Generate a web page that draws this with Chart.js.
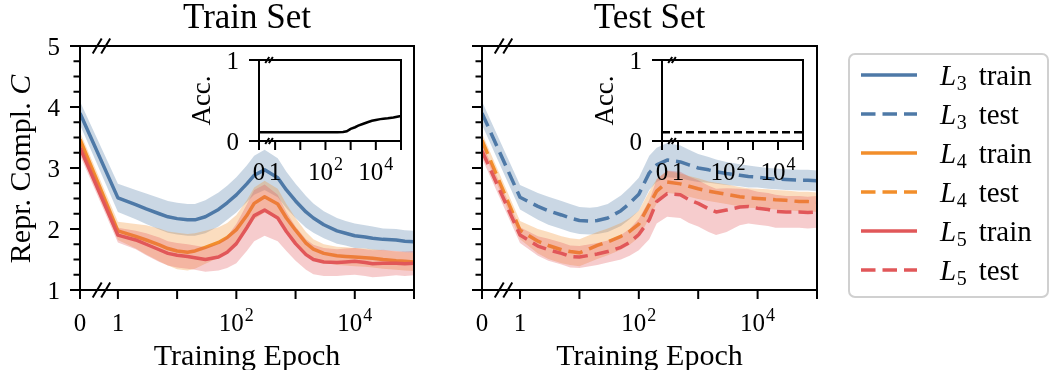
<!DOCTYPE html>
<html><head><meta charset="utf-8">
<script src="https://cdn.jsdelivr.net/npm/chart.js@4.4.0/dist/chart.umd.min.js"></script>
<style>
html,body{margin:0;padding:0;background:#fff;}
#wrap{position:relative;width:1051px;height:370px;overflow:hidden;background:#fff;}
#wrap canvas{position:absolute;}
</style></head><body>
<div id="wrap">
<canvas id="cA" width="440" height="370" style="left:0;top:0"></canvas>
<canvas id="cB" width="611" height="370" style="left:440px;top:0"></canvas>
<canvas id="cC" width="240" height="145" style="left:180px;top:45px"></canvas>
<canvas id="cD" width="240" height="145" style="left:580px;top:45px"></canvas>
</div>
<script>
// ---------------- data ----------------
const EPOCHS = [0,1,2,3,5,7,10,15,20,30,50,70,100,150,200,300,500,700,1000,1500,2000,3000,5000,7000,10000,15000,20000,30000,50000,70000,100000];

const L3_TRAIN    = [3.90,2.51,2.40,2.33,2.25,2.20,2.17,2.15,2.15,2.20,2.32,2.43,2.56,2.74,2.88,2.97,2.84,2.64,2.46,2.28,2.18,2.07,1.97,1.93,1.89,1.87,1.85,1.83,1.82,1.80,1.79];
const L3_TRAIN_SD = [0.19,0.23,0.24,0.25,0.26,0.26,0.26,0.26,0.26,0.27,0.28,0.28,0.29,0.30,0.32,0.33,0.32,0.30,0.28,0.26,0.24,0.22,0.21,0.20,0.20,0.19,0.19,0.18,0.18,0.18,0.18];
const L4_TRAIN    = [3.47,1.97,1.88,1.82,1.74,1.68,1.64,1.62,1.64,1.70,1.78,1.86,1.99,2.22,2.42,2.53,2.41,2.18,1.98,1.77,1.67,1.60,1.56,1.55,1.54,1.53,1.52,1.50,1.48,1.47,1.46];
const L4_TRAIN_SD = [0.12,0.15,0.20,0.24,0.27,0.28,0.30,0.30,0.29,0.27,0.25,0.24,0.24,0.25,0.26,0.26,0.25,0.23,0.20,0.18,0.16,0.15,0.15,0.15,0.15,0.15,0.15,0.15,0.15,0.15,0.15];
const L5_TRAIN    = [3.33,1.90,1.82,1.75,1.66,1.60,1.57,1.55,1.53,1.50,1.54,1.62,1.76,2.02,2.22,2.31,2.18,1.96,1.76,1.58,1.50,1.46,1.45,1.46,1.47,1.45,1.43,1.44,1.44,1.43,1.44];
const L5_TRAIN_SD = [0.12,0.12,0.15,0.18,0.20,0.20,0.20,0.20,0.20,0.20,0.22,0.26,0.32,0.38,0.42,0.42,0.38,0.32,0.28,0.25,0.24,0.23,0.22,0.22,0.22,0.22,0.22,0.22,0.20,0.20,0.20];

const L3_TEST     = [3.90,2.52,2.37,2.30,2.23,2.18,2.14,2.13,2.14,2.18,2.30,2.42,2.57,2.92,3.05,3.13,3.10,3.05,3.00,2.97,2.94,2.91,2.88,2.86,2.85,2.83,2.82,2.81,2.80,2.80,2.79];
const L3_TEST_SD  = [0.19,0.20,0.22,0.23,0.23,0.23,0.22,0.22,0.22,0.23,0.25,0.26,0.27,0.28,0.28,0.28,0.27,0.25,0.23,0.21,0.20,0.19,0.18,0.18,0.17,0.17,0.17,0.17,0.17,0.17,0.17];
const L4_TEST     = [3.45,1.98,1.80,1.73,1.66,1.63,1.61,1.68,1.73,1.79,1.88,1.96,2.08,2.40,2.62,2.77,2.74,2.70,2.66,2.62,2.60,2.57,2.53,2.51,2.50,2.49,2.48,2.47,2.45,2.45,2.44];
const L4_TEST_SD  = [0.12,0.15,0.20,0.22,0.22,0.22,0.22,0.22,0.22,0.22,0.22,0.22,0.22,0.22,0.20,0.18,0.17,0.17,0.17,0.16,0.16,0.16,0.16,0.16,0.16,0.16,0.16,0.16,0.16,0.16,0.16];
const L5_TEST     = [3.28,1.90,1.72,1.66,1.60,1.55,1.54,1.57,1.59,1.63,1.70,1.78,1.91,2.15,2.45,2.58,2.56,2.48,2.42,2.33,2.28,2.31,2.36,2.37,2.34,2.32,2.29,2.28,2.28,2.27,2.28];
const L5_TEST_SD  = [0.12,0.13,0.16,0.18,0.18,0.18,0.18,0.18,0.18,0.18,0.20,0.22,0.26,0.32,0.36,0.38,0.38,0.38,0.38,0.38,0.38,0.36,0.30,0.28,0.27,0.27,0.27,0.26,0.26,0.26,0.26];

const TRAIN_ACC = [0.107,0.107,0.107,0.107,0.107,0.107,0.107,0.107,0.107,0.107,0.107,0.107,0.107,0.107,0.107,0.107,0.11,0.12,0.15,0.17,0.19,0.21,0.235,0.25,0.26,0.27,0.275,0.28,0.29,0.30,0.31];
const TEST_ACC  = [0.107,0.107,0.107,0.107,0.107,0.107,0.107,0.107,0.107,0.107,0.107,0.107,0.107,0.107,0.107,0.107,0.107,0.107,0.107,0.107,0.107,0.107,0.107,0.107,0.107,0.107,0.107,0.107,0.107,0.107,0.107];

const X_TICK_EPOCHS = [0,1,10,100,1000,10000,100000];
const X_TICK_LABELS = ['0','1','','10^2','','10^4',''];
const Y_TICKS       = [1,1.25,1.5,1.75,2,2.25,2.5,2.75,3,3.25,3.5,3.75,4,4.25,4.5,4.75,5];
const Y_MAJOR       = [1,2,3,4,5];
const ACC_TICKS     = [0,1];
const LEVELS        = ['3','4','5'];

// ---------------- styles ----------------
const FAM = "'Liberation Serif','DejaVu Serif',serif";
Chart.defaults.font.family = FAM;
Chart.defaults.color = '#000';
const COLORS = ['#4e79a7','#f28e2b','#e15759'];
const DASH = [14.5,7];
const Z = -0.64; // where epoch 0 sits on the broken log axis (decades left of epoch 1)
const pos = e => e === 0 ? Z : Math.log10(e);

function rgba(hex,a){const n=parseInt(hex.slice(1),16);return `rgba(${n>>16},${(n>>8)&255},${n&255},${a})`;}
const TICK_PX = 25;

function seriesSets(means, sds, dashed){
  const out=[];
  means.forEach((m,k)=>{
    const col=COLORS[k], sd=sds[k], ob=(3-k)*2;
    out.push({data:EPOCHS.map((e,i)=>({x:pos(e),y:m[i]+sd[i]})),borderColor:'rgba(0,0,0,0)',borderWidth:0,pointRadius:0,
      fill:'+1',backgroundColor:rgba(col,0.3),order:ob});
    out.push({data:EPOCHS.map((e,i)=>({x:pos(e),y:m[i]-sd[i]})),borderColor:'rgba(0,0,0,0)',borderWidth:0,pointRadius:0,
      fill:false,order:ob});
    out.push({data:EPOCHS.map((e,i)=>({x:pos(e),y:m[i]})),borderColor:col,borderWidth:3.5,borderDash:dashed?DASH:[],
      borderJoinStyle:'round',pointRadius:0,fill:false,order:ob-1});
  });
  return out;
}

function xScale(height){
  return {type:'linear',min:Z,max:5,
    afterBuildTicks:s=>{s.ticks=X_TICK_EPOCHS.map(e=>({value:pos(e)}));},
    ticks:{autoSkip:false,maxRotation:0,minRotation:0,display:false,callback:(v,i)=>X_TICK_LABELS[i]},
    grid:{display:false},border:{display:false},
    afterFit:s=>{s.height=height;}};
}
function yScale(width, values, min, max){
  return {type:'linear',min:min,max:max,
    afterBuildTicks:s=>{s.ticks=values.map(v=>({value:v}));},
    ticks:{autoSkip:false,display:false,callback:v=>Number.isInteger(v)?String(v):''},
    grid:{display:false},border:{display:false},
    afterFit:s=>{s.width=width;}};
}

function drawRotated(ctx,parts,cx,cy,size){
  // parts: [[text,italic],...] drawn bottom-to-top, centred at cy, baseline at cx
  ctx.save();ctx.translate(cx,cy);ctx.rotate(-Math.PI/2);
  ctx.fillStyle='#000';ctx.textBaseline='alphabetic';ctx.textAlign='left';
  let total=0;const ws=parts.map(([t,it])=>{ctx.font=`${it?'italic ':''}${size}px ${FAM}`;const w=ctx.measureText(t).width;total+=w;return w;});
  let x=-total/2;
  parts.forEach(([t,it],i)=>{ctx.font=`${it?'italic ':''}${size}px ${FAM}`;ctx.fillText(t,x,0);x+=ws[i];});
  ctx.restore();
}

// draws tick marks, tick labels, frame, axis-break marks, titles
function decoPlugin(p){
  return {id:'deco',afterDraw(chart){
    const ctx=chart.ctx,a=chart.chartArea,xs=chart.scales.x,ys=chart.scales.y;
    ctx.save();ctx.strokeStyle='#000';ctx.lineWidth=p.lw;ctx.setLineDash([]);ctx.lineCap='butt';
    ctx.beginPath();
    xs.ticks.forEach(t=>{const px=xs.getPixelForValue(t.value);ctx.moveTo(px,a.bottom);ctx.lineTo(px,a.bottom+p.xt);});
    ys.ticks.forEach(t=>{const py=ys.getPixelForValue(t.value);const L=(p.allMajor||Y_MAJOR.indexOf(t.value)>=0)?p.yM:p.ym;
      ctx.moveTo(a.left,py);ctx.lineTo(a.left-L,py);});
    ctx.stroke();
    ctx.strokeRect(a.left,a.top,a.right-a.left,a.bottom-a.top);
    const bx=(xs.getPixelForValue(Z)+xs.getPixelForValue(0))/2+p.bo;
    ctx.beginPath();
    [a.top,a.bottom].forEach(y=>{[-p.bs/2,p.bs/2].forEach(dx=>{ctx.moveTo(bx+dx-p.bw,y+p.bh);ctx.lineTo(bx+dx+p.bw,y-p.bh);});});
    ctx.stroke();
    ctx.fillStyle='#000';ctx.textBaseline='alphabetic';
    // x tick labels
    ctx.textAlign='left';
    const base=a.bottom+p.lblBase;
    xs.ticks.forEach((t,i)=>{
      const lbl=X_TICK_LABELS[i];if(!lbl)return;
      const parts=lbl.split('^');const main=parts[0],sup=parts[1]||'';
      const supPx=Math.round(TICK_PX*0.72);
      ctx.font=`${TICK_PX}px ${FAM}`;const wm=ctx.measureText(main).width;
      ctx.font=`${supPx}px ${FAM}`;const ws=sup?ctx.measureText(sup).width+1:0;
      const x0=xs.getPixelForValue(t.value)-(wm+ws)/2;
      ctx.font=`${TICK_PX}px ${FAM}`;ctx.fillText(main,x0,base);
      if(sup){ctx.font=`${supPx}px ${FAM}`;ctx.fillText(sup,x0+wm+1,base-10);}
    });
    // y tick labels
    if(p.yLabels){
      ctx.textAlign='right';ctx.font=`${TICK_PX}px ${FAM}`;
      ys.ticks.forEach(t=>{if(!Number.isInteger(t.value))return;
        const py=ys.getPixelForValue(t.value);ctx.fillText(String(t.value),a.left-p.yGap,py+0.34*TICK_PX);});
    }
    const cx=(a.left+a.right)/2;
    ctx.textAlign='center';
    if(p.title){ctx.font=`35px ${FAM}`;ctx.fillText(p.title,cx,p.titleBase);}
    if(p.xTitle){ctx.font=`30px ${FAM}`;ctx.fillText(p.xTitle,cx,p.xTitleBase);}
    ctx.restore();
    if(p.yTitle){drawRotated(ctx,p.yTitle,p.yTitleX(a),(a.top+a.bottom)/2+p.yTitleDy,p.yTitleSize);}
  }};
}
const whiteBg={id:'wbg',beforeDraw(c){const a=c.chartArea;c.ctx.save();c.ctx.fillStyle='#fff';
  c.ctx.fillRect(a.left,a.top,a.right-a.left,a.bottom-a.top);c.ctx.restore();}};

const LEGEND_ITEMS=[];
LEVELS.forEach((lv,k)=>{LEGEND_ITEMS.push({lv,word:'train',color:COLORS[k],dash:[]});LEGEND_ITEMS.push({lv,word:'test',color:COLORS[k],dash:DASH});});
const legendPlugin={id:'lgd',afterDraw(chart){
  const ctx=chart.ctx;ctx.save();
  const bx=409,by=54,bw=199,bh=243,r=6;
  ctx.beginPath();ctx.roundRect(bx,by,bw,bh,r);ctx.fillStyle='rgba(255,255,255,0.8)';ctx.fill();
  ctx.strokeStyle='#d0d0d0';ctx.lineWidth=2;ctx.stroke();
  LEGEND_ITEMS.forEach((it,i)=>{
    const y=75+39*i;
    ctx.beginPath();ctx.setLineDash(it.dash);ctx.strokeStyle=it.color;ctx.lineWidth=3.5;ctx.lineCap='butt';
    ctx.moveTo(421,y);ctx.lineTo(477,y);ctx.stroke();ctx.setLineDash([]);
    ctx.fillStyle='#000';ctx.textBaseline='alphabetic';ctx.textAlign='left';
    const base=y+10;let x=500;
    ctx.font=`italic 29px ${FAM}`;ctx.fillText('L',x,base);x+=ctx.measureText('L').width+0.5;
    ctx.font=`20px ${FAM}`;ctx.fillText(it.lv,x,base+5);x+=ctx.measureText(it.lv).width+12;
    ctx.font=`29px ${FAM}`;ctx.fillText(it.word,x,base);
  });
  ctx.restore();
}};

const baseOpts=(padRight,padTop)=>({responsive:false,animation:false,devicePixelRatio:1,
  layout:{padding:{left:0,right:padRight,top:padTop,bottom:0}},
  plugins:{legend:{display:false},tooltip:{enabled:false},title:{display:false}},
  elements:{line:{tension:0}}});

const mainDeco={lw:2,xt:9,yM:10,ym:6.5,bo:2.5,bs:8.5,bw:4.5,bh:7.5,lblBase:40.5,yGap:20,
  titleBase:28,xTitle:'Training Epoch',xTitleBase:365};

// Train Set panel
new Chart(document.getElementById('cA'),{type:'line',
  data:{datasets:seriesSets([L3_TRAIN,L4_TRAIN,L5_TRAIN],[L3_TRAIN_SD,L4_TRAIN_SD,L5_TRAIN_SD],false)},
  options:Object.assign(baseOpts(26,46),{scales:{x:xScale(80),y:yScale(80,Y_TICKS,1,5)}}),
  plugins:[decoPlugin(Object.assign({},mainDeco,{title:'Train Set',yLabels:true,
    yTitle:[['Repr. Compl. ',false],['C',true]],yTitleX:a=>30,yTitleDy:1,yTitleSize:30}))]});

// Test Set panel + legend
new Chart(document.getElementById('cB'),{type:'line',
  data:{datasets:seriesSets([L3_TEST,L4_TEST,L5_TEST],[L3_TEST_SD,L4_TEST_SD,L5_TEST_SD],true)},
  options:Object.assign(baseOpts(234,46),{scales:{x:xScale(80),y:yScale(42,Y_TICKS,1,5)}}),
  plugins:[decoPlugin(Object.assign({},mainDeco,{title:'Test Set',yLabels:false})),legendPlugin]});

function insetChart(id,acc,dashed,yw,padR){
  new Chart(document.getElementById(id),{type:'line',
    data:{datasets:[{data:EPOCHS.map((e,i)=>({x:pos(e),y:acc[i]})),borderColor:'#000',borderWidth:2.5,
      borderDash:dashed?[8,4]:[],pointRadius:0,fill:false}]},
    options:Object.assign(baseOpts(padR,15),{scales:{x:xScale(49),y:yScale(yw,ACC_TICKS,0,1)}}),
    plugins:[whiteBg,decoPlugin({lw:2,xt:9,yM:10,ym:10,allMajor:true,bo:2,bs:3.6,bw:2,bh:3,lblBase:39,
      yLabels:true,yGap:20,yTitle:[['Acc.',false]],yTitleX:a=>a.left-49,yTitleDy:0,yTitleSize:27})]});
}
insetChart('cC',TRAIN_ACC,false,79,19);
insetChart('cD',TEST_ACC,true,82,17);
</script>
</body></html>
